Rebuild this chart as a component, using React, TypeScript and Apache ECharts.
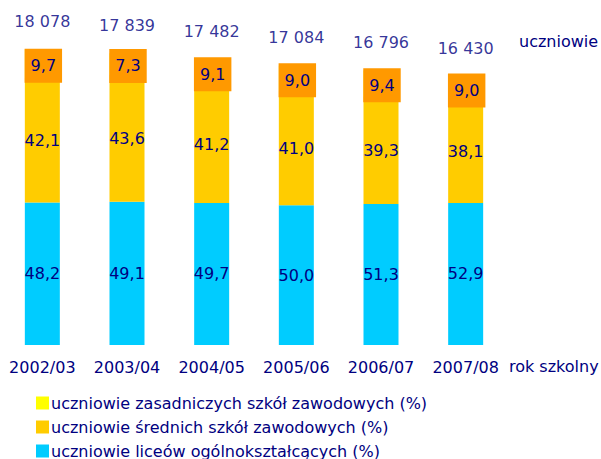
import React, { useEffect, useRef } from "react";
import * as echarts from "echarts";

const categories = ["2002/03", "2003/04", "2004/05", "2005/06", "2006/07", "2007/08"];
const totals = [18078, 17839, 17482, 17084, 16796, 16430];
const pctLicea = [48.2, 49.1, 49.7, 50.0, 51.3, 52.9];
const pctSrednie = [42.1, 43.6, 41.2, 41.0, 39.3, 38.1];
const pctZasadnicze = [9.7, 7.3, 9.1, 9.0, 9.4, 9.0];

const seriesNames = [
  "uczniowie zasadniczych szkół zawodowych (%)",
  "uczniowie średnich szkół zawodowych (%)",
  "uczniowie liceów ogólnokształcących (%)",
];

const NAVY = "#000080";
const FONT = "DejaVu Sans";

const fmtPct = (v: number) => v.toFixed(1).replace(".", ",");
const fmtTotal = (v: number) => String(v).replace(/\B(?=(\d{3})+(?!\d))/g, " ");

function toCounts(pcts: number[]) {
  return pcts.map((p, i) => ({ value: (totals[i] * p) / 100, pct: p }));
}

export default function App() {
  const ref = useRef<HTMLDivElement>(null);
  useEffect(() => {
    if (!ref.current) return;
    const chart = echarts.init(ref.current, undefined, { renderer: "svg" });
    const labelBase = {
      show: true,
      color: NAVY,
      fontFamily: FONT,
      fontSize: 16,
      formatter: (p: any) => fmtPct(p.data.pct),
    };
    chart.setOption({
      animation: false,
      textStyle: { fontFamily: FONT },
      grid: { left: 0, width: 508, top: 18, bottom: 114, containLabel: false },
      xAxis: {
        type: "category",
        data: categories,
        axisLine: { show: false },
        axisTick: { show: false },
        axisLabel: { color: NAVY, fontFamily: FONT, fontSize: 16, margin: 14, interval: 0 },
      },
      yAxis: { type: "value", min: 0, max: 20000, show: false, splitLine: { show: false } },
      legend: {
        orient: "vertical",
        left: 36,
        top: 395,
        padding: 0,
        itemGap: 8,
        itemWidth: 13,
        itemHeight: 13,
        icon: "rect",
        data: seriesNames,
        textStyle: { color: NAVY, fontFamily: FONT, fontSize: 16, padding: [0, 0, 0, -3] },
      },
      graphic: [
        {
          type: "text",
          left: 519,
          top: 33,
          style: { text: "uczniowie", fill: NAVY, font: `16px '${FONT}'` },
        },
        {
          type: "text",
          left: 509,
          top: 358,
          style: { text: "rok szkolny", fill: NAVY, font: `16px '${FONT}'` },
        },
      ],
      series: [
        {
          name: seriesNames[2],
          type: "bar",
          stack: "s",
          barWidth: 35,
          itemStyle: { color: "#00CCFF" },
          label: { ...labelBase, position: "inside" },
          data: toCounts(pctLicea),
        },
        {
          name: seriesNames[1],
          type: "bar",
          stack: "s",
          barWidth: 35,
          itemStyle: { color: "#FFCC00" },
          label: { ...labelBase, position: "inside" },
          data: toCounts(pctSrednie),
        },
        {
          name: seriesNames[0],
          type: "bar",
          stack: "s",
          barWidth: 35,
          itemStyle: { color: "#FFFF00" },
          label: {
            ...labelBase,
            position: "inside",
            backgroundColor: "#FF9900",
            padding: [8, 6, 8, 6],
            lineHeight: 18,
            offset: [1, 2],
          },
          data: toCounts(pctZasadnicze),
        },
        {
          name: "totals",
          type: "scatter",
          symbolSize: 0,
          itemStyle: { color: "transparent" },
          label: {
            show: true,
            position: "top",
            distance: 20,
            color: NAVY,
            fontFamily: FONT,
            fontSize: 16,
            formatter: (p: any) => fmtTotal(p.value),
          },
          data: totals,
          z: 5,
        },
      ],
    });
    return () => chart.dispose();
  }, []);
  return (
    <div
      ref={ref}
      style={{ position: "fixed", left: 0, top: 0, width: 601, height: 459, background: "#fff" }}
    />
  );
}
